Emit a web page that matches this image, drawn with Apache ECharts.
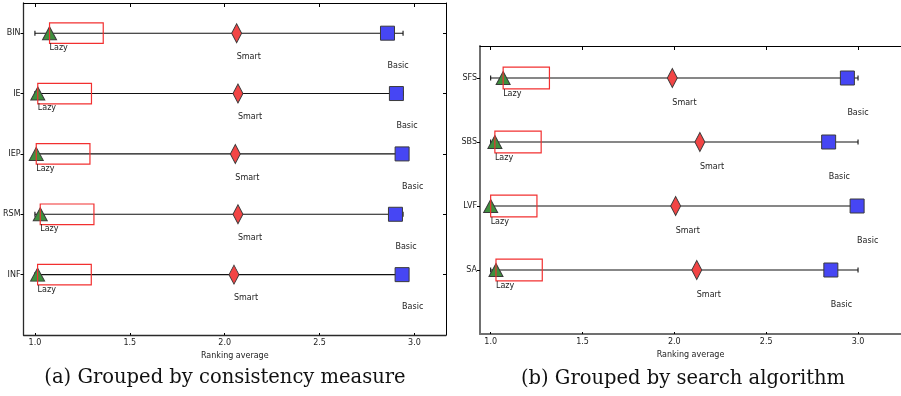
<!DOCTYPE html>
<html>
<head>
<meta charset="utf-8">
<script src="https://cdn.jsdelivr.net/npm/echarts@6/dist/echarts.min.js"></script>
<style>
  html, body { margin: 0; padding: 0; background: #fff; }
  #main { width: 901px; height: 396px; }
</style>
</head>
<body>
<div id="main"></div>
<script>
// (a) grouped by consistency measure, top row first
var leftCats = ['BIN', 'IE', 'IEP', 'RSM', 'INF'];
var leftLazy = [1.077, 1.015, 1.007, 1.028, 1.014];
var leftSmart = [2.063, 2.070, 2.056, 2.070, 2.049];
var leftBasic = [2.858, 2.905, 2.935, 2.900, 2.935];
var leftRangeStart = [1.0, 1.0, 1.0, 1.0, 1.0];
var leftRangeEnd = [2.94, 2.94, 2.94, 2.94, 2.94];
var leftBoxWidth = 0.283;

// (b) grouped by search algorithm
var rightCats = ['SFS', 'SBS', 'LVF', 'SA'];
var rightLazy = [1.068, 1.023, 1.000, 1.029];
var rightSmart = [1.989, 2.139, 2.007, 2.122];
var rightBasic = [2.942, 2.840, 2.995, 2.852];
var rightRangeStart = [1.0, 1.0, 1.0, 1.0];
var rightRangeEnd = [3.0, 3.0, 3.0, 3.0];
var rightBoxWidth = 0.252;

var xTicks = [1.0, 1.5, 2.0, 2.5, 3.0];
var methodNames = ['Lazy', 'Smart', 'Basic'];
var labelDrop = [0.245, 0.39, 0.54];
var boxHeight = 0.34;
var captions = ['(a) Grouped by consistency measure', '(b) Grouped by search algorithm'];

var chartDom = document.getElementById('main');
var myChart = echarts.init(chartDom, null, { renderer: 'canvas' });

var tickFont = { fontFamily: 'DejaVu Sans', fontSize: 8, color: '#222' };
// frame colours: panel (a) is dark and thin, panel (b) greyer and heavier
var frame = [
  { color: '#2a2a2a', width: 1.3 },
  { color: '#707070', width: 2 }
];

function rowY(cats, i) { return cats.length - 1 - i; }

function buildPanel(g, cats, lazy, smart, basic, rStart, rEnd, boxW) {
  var series = [];
  var lines = [], boxes = [], labels = [], labelText = [];
  var tri = [], dia = [], sq = [];
  cats.forEach(function (c, i) {
    var y = rowY(cats, i);
    lines.push([rStart[i], rEnd[i], y]);
    boxes.push([lazy[i], y, boxW]);
    tri.push([lazy[i], y]);
    dia.push([smart[i], y]);
    sq.push([basic[i], y]);
    [lazy[i], smart[i], basic[i]].forEach(function (x, k) {
      labels.push([x, y - labelDrop[k]]);
      labelText.push(methodNames[k]);
    });
  });

  series.push({
    type: 'custom', xAxisIndex: g * 2, yAxisIndex: g * 2, z: 1,
    data: lines, silent: true,
    renderItem: function (params, api) {
      var a = api.coord([api.value(0), api.value(2)]);
      var b = api.coord([api.value(1), api.value(2)]);
      var st = { stroke: '#111', lineWidth: 1.1 };
      return {
        type: 'group', children: [
          { type: 'line', shape: { x1: a[0], y1: a[1], x2: b[0], y2: b[1] }, style: st },
          { type: 'line', shape: { x1: a[0], y1: a[1] - 2.5, x2: a[0], y2: a[1] + 2.5 }, style: st },
          { type: 'line', shape: { x1: b[0], y1: b[1] - 2.5, x2: b[0], y2: b[1] + 2.5 }, style: st }
        ]
      };
    }
  });

  var markerStyle = { borderColor: '#3a3a3a', borderWidth: 1, opacity: 1 };
  series.push({
    type: 'scatter', xAxisIndex: g * 2, yAxisIndex: g * 2, z: 3, silent: true,
    symbol: 'triangle', symbolSize: [14, 13], data: tri,
    itemStyle: Object.assign({ color: '#3e903e' }, markerStyle)
  });
  series.push({
    type: 'scatter', xAxisIndex: g * 2, yAxisIndex: g * 2, z: 3, silent: true,
    symbol: 'diamond', symbolSize: [10, 19], data: dia,
    itemStyle: Object.assign({ color: '#f24545' }, markerStyle)
  });
  series.push({
    type: 'scatter', xAxisIndex: g * 2, yAxisIndex: g * 2, z: 3, silent: true,
    symbol: 'rect', symbolSize: [14, 14], data: sq,
    itemStyle: Object.assign({ color: '#4646f4' }, markerStyle)
  });

  series.push({
    type: 'custom', xAxisIndex: g * 2, yAxisIndex: g * 2, z: 5, silent: true,
    data: boxes,
    renderItem: function (params, api) {
      var x = api.value(0), y = api.value(1), w = api.value(2);
      var p1 = api.coord([x, y + boxHeight / 2]);
      var p2 = api.coord([x + w, y - boxHeight / 2]);
      return {
        type: 'rect',
        shape: { x: p1[0], y: p1[1], width: p2[0] - p1[0], height: p2[1] - p1[1] },
        style: { fill: 'none', stroke: '#f23030', lineWidth: 1.2 }
      };
    }
  });

  series.push({
    type: 'custom', xAxisIndex: g * 2, yAxisIndex: g * 2, z: 5, silent: true,
    data: labels,
    renderItem: function (params, api) {
      var p = api.coord([api.value(0), api.value(1)]);
      return {
        type: 'text', x: p[0], y: p[1],
        style: {
          text: labelText[params.dataIndex], fill: '#222',
          font: '8px "DejaVu Sans"', align: 'left', verticalAlign: 'middle'
        }
      };
    }
  });
  return series;
}

function xAxes(g, min, max) {
  return [
    {
      type: 'value', gridIndex: g, position: 'bottom', min: min, max: max,
      name: 'Ranking average', nameLocation: 'middle', nameGap: 17,
      nameTextStyle: tickFont,
      axisLine: { show: true, onZero: false, lineStyle: frame[g] },
      axisTick: { show: true, inside: true, length: 2, customValues: xTicks,
        lineStyle: { color: '#000' } },
      axisLabel: Object.assign({ customValues: xTicks, margin: 4,
        formatter: function (v) { return v.toFixed(1); } }, tickFont),
      splitLine: { show: false }
    },
    {
      type: 'value', gridIndex: g, position: 'top', min: min, max: max,
      axisLine: { show: true, onZero: false, lineStyle: { color: '#000', width: 1 } },
      axisTick: { show: true, inside: true, length: 4, customValues: xTicks,
        lineStyle: { color: '#000' } },
      axisLabel: { show: false },
      splitLine: { show: false }
    }
  ];
}

function yAxes(g, cats) {
  var vals = cats.map(function (c, i) { return rowY(cats, i); });
  return [
    {
      type: 'value', gridIndex: g, position: 'left', min: -1, max: cats.length - 0.5,
      axisLine: { show: true, onZero: false, lineStyle: frame[g] },
      axisTick: { show: true, inside: false, length: 3, customValues: vals,
        lineStyle: { color: '#000' } },
      axisLabel: Object.assign({ customValues: vals, margin: 3,
        formatter: function (v) { return cats[cats.length - 1 - Math.round(v)]; } }, tickFont),
      splitLine: { show: false }
    },
    {
      type: 'value', gridIndex: g, position: 'right', min: -1, max: cats.length - 0.5,
      show: g === 0,
      axisLine: { show: true, onZero: false, lineStyle: { color: '#000', width: 1 } },
      axisTick: { show: true, inside: true, length: 3, customValues: vals,
        lineStyle: { color: '#000' } },
      axisLabel: { show: false },
      splitLine: { show: false }
    }
  ];
}

var option = {
  animation: false,
  backgroundColor: '#fff',
  grid: [
    { left: 23, top: 3, width: 423, height: 332 },
    { left: 480, top: 46, width: 424, height: 288 }
  ],
  xAxis: xAxes(0, 0.94, 0.94 + 423 / 190).concat(xAxes(1, 0.942, 0.942 + 424 / 185)),
  yAxis: yAxes(0, leftCats).concat(yAxes(1, rightCats)),
  series: buildPanel(0, leftCats, leftLazy, leftSmart, leftBasic, leftRangeStart, leftRangeEnd, leftBoxWidth)
    .concat(buildPanel(1, rightCats, rightLazy, rightSmart, rightBasic, rightRangeStart, rightRangeEnd, rightBoxWidth)),
  graphic: [
    { type: 'text', x: 225, y: 378, style: { text: captions[0], font: '19.5px "DejaVu Serif"',
      fill: '#111', align: 'center', verticalAlign: 'middle' } },
    { type: 'text', x: 683, y: 379, style: { text: captions[1], font: '19.5px "DejaVu Serif"',
      fill: '#111', align: 'center', verticalAlign: 'middle' } }
  ]
};

option && myChart.setOption(option);
</script>
</body>
</html>
